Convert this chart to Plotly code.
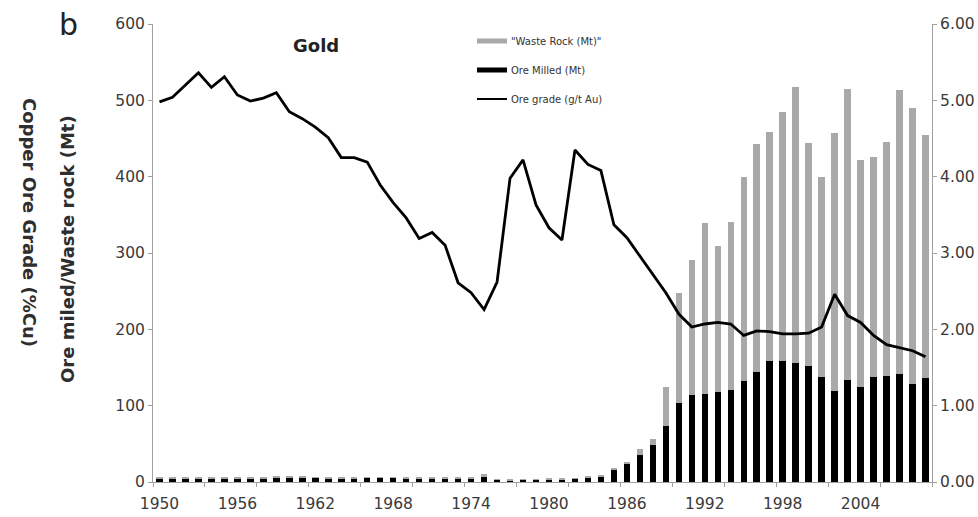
import plotly.graph_objects as go

# ---- data -------------------------------------------------------------
years = list(range(1950, 2010))

ore_milled = [
    4.5, 4.5, 4.5, 4.8, 4.5, 4.5, 4.3, 4.5, 5.0, 5.5,
    6.5, 6.0, 5.5, 5.0, 5.0, 5.0, 5.5, 5.5, 5.5, 5.0,
    4.5, 4.5, 4.5, 4.5, 5.0, 6.5, 3.0, 2.5, 3.0, 3.0,
    3.5, 3.5, 4.5, 6.0, 7.0, 17, 23, 35, 49, 73,
    104, 114, 115, 118, 121, 132, 144, 158, 159, 156,
    152, 138, 119, 134, 125, 138, 139, 141, 129, 136,
]

waste_rock = [
    1, 1, 1, 1, 1, 1, 1, 1, 1, 1.5,
    2, 1.5, 1, 1, 1, 1, 1, 1, 1, 1,
    1, 1, 1, 1, 1.5, 4, 0.5, 0.5, 0.5, 0.5,
    0.5, 0.5, 0.5, 1, 1, 2, 3, 8, 7, 52,
    144, 177, 224, 191, 220, 268, 299, 300, 326, 362,
    292, 262, 338, 381, 297, 288, 306, 372, 361, 318,
]

ore_grade = [
    4.98, 5.04, 5.20, 5.36, 5.17, 5.31, 5.07, 4.99, 5.03, 5.10,
    4.85, 4.76, 4.65, 4.51, 4.25, 4.25, 4.19, 3.89, 3.66, 3.46,
    3.19, 3.27, 3.10, 2.61, 2.48, 2.26, 2.62, 3.98, 4.22, 3.63,
    3.33, 3.17, 4.35, 4.16, 4.08, 3.37, 3.20, 2.96, 2.73, 2.48,
    2.20, 2.03, 2.07, 2.09, 2.07, 1.92, 1.98, 1.97, 1.94, 1.94,
    1.95, 2.03, 2.46, 2.18, 2.09, 1.92, 1.80, 1.76, 1.72, 1.64,
]

year_labels = [1950, 1956, 1962, 1968, 1974, 1980, 1986, 1992, 1998, 2004]
left_ticks = [0, 100, 200, 300, 400, 500, 600]
right_ticks = [0, 1, 2, 3, 4, 5, 6]

legend_names = ['"Waste Rock (Mt)"', "Ore Milled (Mt)", "Ore grade (g/t Au)"]

# ---- figure geometry ----------------------------------------------------
W, H = 978, 517
ML, MR, MT, MB = 153, 46, 24, 35
PW, PH = W - ML - MR, H - MT - MB

GREY_BAR = "#a9a9a9"
AXIS_LINE = "#a0a0a0"
TICK_TXT = "#3a3a3a"
FONT = "DejaVu Sans, Verdana, sans-serif"


def px_x(p):
    return (p - ML) / PW


def px_y(p):
    return (H - MB - p) / PH


fig = go.Figure()

fig.add_trace(go.Bar(
    x=years, y=ore_milled, name=legend_names[1],
    marker=dict(color="#000000", line=dict(width=0)), width=0.5,
))
fig.add_trace(go.Bar(
    x=years, y=waste_rock, name=legend_names[0],
    marker=dict(color=GREY_BAR, line=dict(width=0)), width=0.5,
))
fig.add_trace(go.Scatter(
    x=years, y=ore_grade, name=legend_names[2], yaxis="y2",
    mode="lines", line=dict(color="#000000", width=2.8),
))

fig.update_layout(
    width=W, height=H,
    margin=dict(l=ML, r=MR, t=MT, b=MB, pad=0, autoexpand=False),
    paper_bgcolor="white", plot_bgcolor="white",
    barmode="stack", bargap=0,
    showlegend=False,
    font=dict(family=FONT, color=TICK_TXT, size=15),
    xaxis=dict(
        range=[1949.5, 2009.5], automargin=False,
        tickmode="array", tickvals=year_labels,
        ticktext=[str(y) for y in year_labels],
        ticks="", showgrid=False, zeroline=False,
        showline=True, linecolor=AXIS_LINE, linewidth=1,
        tickfont=dict(size=15.5, color=TICK_TXT),
        ticklabelstandoff=7,
        minor=dict(tickvals=[1949.5 + 4 * k for k in range(16)],
                   ticks="outside", ticklen=4, tickcolor=AXIS_LINE,
                   showgrid=False),
    ),
    yaxis=dict(
        range=[0, 600], automargin=False,
        tickmode="array", tickvals=left_ticks,
        ticks="outside", ticklen=4, tickcolor=AXIS_LINE,
        showgrid=False, zeroline=False,
        showline=True, linecolor=AXIS_LINE, linewidth=1,
        tickfont=dict(size=15.5, color=TICK_TXT),
    ),
    yaxis2=dict(
        range=[0, 6], overlaying="y", side="right", automargin=False,
        tickmode="array", tickvals=right_ticks,
        tickformat=".2f",
        ticks="outside", ticklen=4, tickcolor=AXIS_LINE,
        showgrid=False, zeroline=False,
        showline=True, linecolor=AXIS_LINE, linewidth=1,
        tickfont=dict(size=15.5, color=TICK_TXT),
    ),
)

# ---- texts --------------------------------------------------------------
annotations = [
    dict(text="b", x=px_x(68), y=px_y(24), font=dict(size=30, color="#222")),
    dict(text="<b>Gold</b>", x=px_x(316), y=px_y(45),
         font=dict(size=18, color="#222")),
    dict(text="<b>Copper Ore Grade (%Cu)</b>", x=px_x(30), y=px_y(222),
         textangle=90, font=dict(size=18, color="#2e2e2e")),
    dict(text="<b>Ore miled/Waste rock (Mt)</b>", x=px_x(67), y=px_y(249),
         textangle=-90, font=dict(size=18, color="#2e2e2e")),
]
for a in annotations:
    a.update(xref="paper", yref="paper", showarrow=False,
             xanchor="center", yanchor="middle")

# ---- legend -------------------------------------------------------------
shapes = []
leg_y = [41, 70, 99]
sym_x0, sym_x1 = 477, 507
shapes.append(dict(type="rect", xref="paper", yref="paper",
                   x0=px_x(sym_x0), x1=px_x(sym_x1),
                   y0=px_y(leg_y[0] + 2.5), y1=px_y(leg_y[0] - 2.5),
                   fillcolor=GREY_BAR, line=dict(width=0)))
shapes.append(dict(type="rect", xref="paper", yref="paper",
                   x0=px_x(sym_x0), x1=px_x(sym_x1),
                   y0=px_y(leg_y[1] + 2.5), y1=px_y(leg_y[1] - 2.5),
                   fillcolor="#000000", line=dict(width=0)))
shapes.append(dict(type="line", xref="paper", yref="paper",
                   x0=px_x(sym_x0), x1=px_x(sym_x1),
                   y0=px_y(leg_y[2]), y1=px_y(leg_y[2]),
                   line=dict(color="#000000", width=2)))
for name, yy in zip(legend_names, leg_y):
    annotations.append(dict(
        text=name, xref="paper", yref="paper", showarrow=False,
        x=px_x(509), y=px_y(yy), xanchor="left", yanchor="middle",
        font=dict(size=10, color="#333"),
    ))

fig.update_layout(annotations=annotations, shapes=shapes)

fig.write_html("out.html")
